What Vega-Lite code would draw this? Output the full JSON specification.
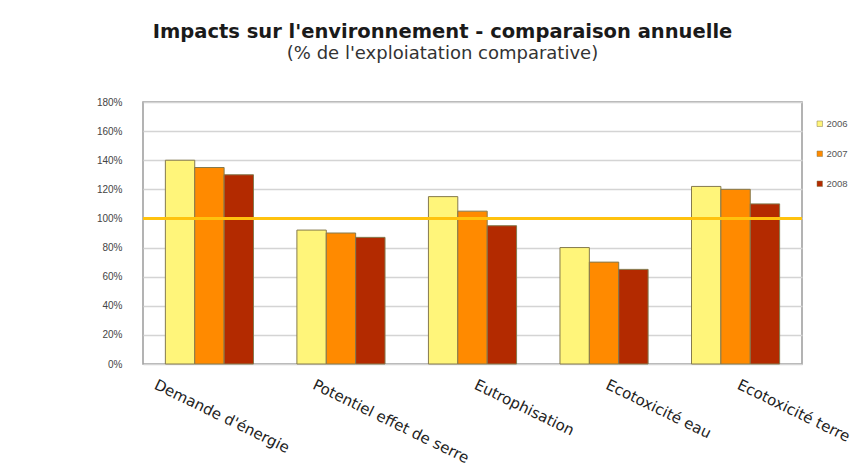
{
  "$schema": "https://vega.github.io/schema/vega-lite/v6.json",
  "width": 659,
  "height": 262,
  "autosize": "none",
  "padding": {"left": 143, "top": 102, "right": 62, "bottom": 108},
  "background": "white",
  "title": {
    "text": "Impacts sur l'environnement - comparaison annuelle",
    "subtitle": "(% de l'exploiatation comparative)",
    "font": "DejaVu Sans",
    "fontSize": 19.5,
    "fontWeight": "bold",
    "color": "#1a1a1a",
    "subtitleFont": "DejaVu Sans",
    "subtitleFontSize": 18,
    "subtitleColor": "#333333",
    "subtitlePadding": 3,
    "anchor": "middle",
    "dx": -30,
    "offset": 33
  },
  "config": {
    "view": {"stroke": "#9a9a9a", "strokeWidth": 1.5},
    "axis": {"labelFont": "Liberation Sans", "labelColor": "#444444"},
    "axisY": {
      "tickCount": 10,
      "labelFontSize": 10,
      "labelPadding": 21,
      "labelOverlap": false,
      "labelExpr": "datum.value + '%'",
      "ticks": false,
      "domain": false,
      "grid": true,
      "gridColor": "#d4d4d4",
      "gridWidth": 1.5
    }
  },
  "layer": [
    {
      "data": {
        "values": [
          {"categorie": "Demande d'énergie", "annee": "2006", "valeur": 140},
          {"categorie": "Demande d'énergie", "annee": "2007", "valeur": 135},
          {"categorie": "Demande d'énergie", "annee": "2008", "valeur": 130},
          {"categorie": "Potentiel effet de serre", "annee": "2006", "valeur": 92},
          {"categorie": "Potentiel effet de serre", "annee": "2007", "valeur": 90},
          {"categorie": "Potentiel effet de serre", "annee": "2008", "valeur": 87},
          {"categorie": "Eutrophisation", "annee": "2006", "valeur": 115},
          {"categorie": "Eutrophisation", "annee": "2007", "valeur": 105},
          {"categorie": "Eutrophisation", "annee": "2008", "valeur": 95},
          {"categorie": "Ecotoxicité eau", "annee": "2006", "valeur": 80},
          {"categorie": "Ecotoxicité eau", "annee": "2007", "valeur": 70},
          {"categorie": "Ecotoxicité eau", "annee": "2008", "valeur": 65},
          {"categorie": "Ecotoxicité terre", "annee": "2006", "valeur": 122},
          {"categorie": "Ecotoxicité terre", "annee": "2007", "valeur": 120},
          {"categorie": "Ecotoxicité terre", "annee": "2008", "valeur": 110}
        ]
      },
      "mark": {"type": "bar", "stroke": "#857a4e", "strokeWidth": 1},
      "encoding": {
        "x": {
          "field": "categorie",
          "type": "nominal",
          "sort": null,
          "title": null,
          "scale": {"paddingInner": 0.33, "paddingOuter": 0.17},
          "axis": {
            "labelAngle": 26,
            "labelAlign": "left",
            "labelBaseline": "top",
            "labelFont": "DejaVu Sans",
            "labelFontSize": 15,
            "labelColor": "#222222",
            "labelPadding": 13,
            "labelOffset": {"expr": "datum.value == \"Demande d'énergie\" ? -51 : (datum.value == 'Potentiel effet de serre' ? -24 : 6)"},
            "ticks": false,
            "domain": false,
            "labelLimit": 300,
            "labelOverlap": false
          }
        },
        "xOffset": {"field": "annee", "type": "nominal", "scale": {"paddingInner": 0, "paddingOuter": 0}},
        "y": {
          "field": "valeur",
          "type": "quantitative",
          "title": null,
          "scale": {"domain": [0, 180], "nice": false}
        },
        "color": {
          "field": "annee",
          "type": "nominal",
          "title": null,
          "scale": {"domain": ["2006", "2007", "2008"], "range": ["#FFF57A", "#FF8A00", "#B32A00"]},
          "legend": {
            "orient": "none",
            "legendX": 672,
            "legendY": 17,
            "symbolType": "square",
            "symbolSize": 30,
            "symbolStrokeColor": "#857a4e",
            "symbolStrokeWidth": 0.5,
            "labelFont": "Liberation Sans",
            "labelFontSize": 9.5,
            "labelColor": "#555555",
            "labelOffset": 2,
            "rowPadding": 19
          }
        }
      }
    },
    {
      "data": {"values": [{"reference": 100}]},
      "mark": {"type": "rule", "color": "#FFC20E", "strokeWidth": 3},
      "encoding": {
        "y": {"field": "reference", "type": "quantitative"}
      }
    }
  ]
}
